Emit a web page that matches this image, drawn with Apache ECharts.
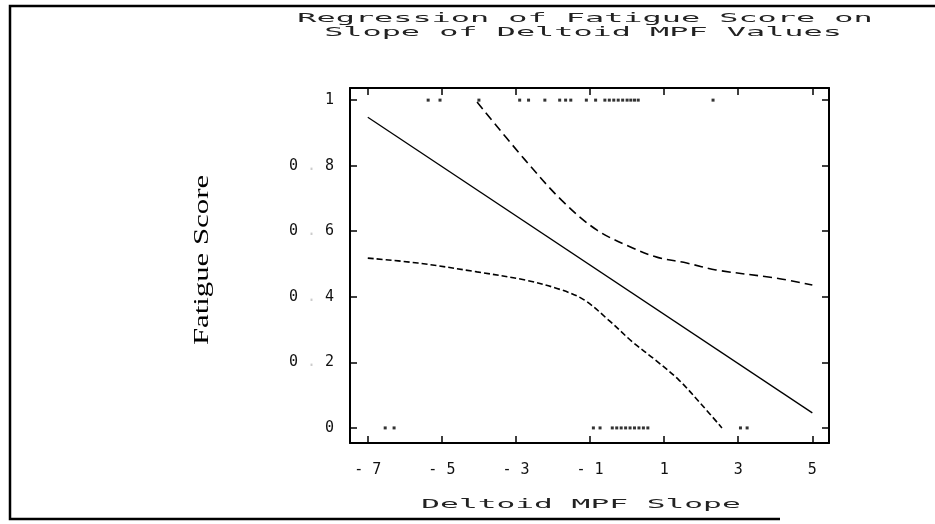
<!DOCTYPE html>
<html>
<head>
<meta charset="utf-8">
<script src="https://cdn.jsdelivr.net/npm/echarts@6/dist/echarts.min.js"></script>
<style>
  html, body { margin: 0; padding: 0; background: #fff; }
  #chart { width: 935px; height: 524px; }
</style>
</head>
<body>
<div id="chart"></div>
<script>
// ── Data ────────────────────────────────────────────────────────────────────
const xTicks = [-7, -5, -3, -1, 1, 3, 5];
const yTicks = [0, 0.2, 0.4, 0.6, 0.8, 1];

// fitted regression line (Deltoid MPF slope → fatigue score)
const fitLine = [[-7, 0.948], [5, 0.046]];

// upper / lower confidence curves
const upperBand = [
  [-4.05, 0.994], [-2.75, 0.817], [-1.77, 0.695], [-0.82, 0.604], [0.15, 0.549],
  [0.80, 0.521], [1.61, 0.503], [2.40, 0.482], [4.02, 0.457], [5.0, 0.436]
];
const lowerBand = [
  [-7.0, 0.518], [-5.65, 0.503], [-4.05, 0.476], [-2.75, 0.451], [-1.77, 0.421],
  [-1.15, 0.390], [-0.50, 0.329], [0.15, 0.262], [0.80, 0.204], [1.40, 0.146],
  [2.02, 0.070], [2.56, 0.0]
];

// observed subjects: fatigued (1) and not fatigued (0)
const fatiguedX = [
  -5.37, -5.05, -4.0, -2.90, -2.66, -2.22, -1.82, -1.66, -1.52, -1.10, -0.85,
  -0.60, -0.48, -0.36, -0.24, -0.12, 0.0, 0.1, 0.2, 0.3, 2.32
];
const notFatiguedX = [
  -6.53, -6.29, -0.91, -0.73, -0.40, -0.28, -0.16, -0.04, 0.08, 0.20, 0.32,
  0.44, 0.56, 3.06, 3.24
];

const titleLines = ['Regression of Fatigue Score on', 'Slope of Deltoid MPF Values'];
const xName = 'Deltoid MPF Slope';
const yName = 'Fatigue Score';

// ── Chart ───────────────────────────────────────────────────────────────────
const chart = echarts.init(document.getElementById('chart'), null, { renderer: 'canvas' });

const MONO = '"DejaVu Sans Mono", "Liberation Mono", monospace';
const INK = '#000';

function xLabel(v) {
  return v < 0 ? '- ' + Math.abs(v) : String(v);
}
function yLabel(v) {
  if (v === 0 || v === 1) return String(v);
  const s = v.toFixed(1);
  return '{d|' + s[0] + '}{p|.}{d|' + s[2] + '}';
}

const axisLine = { show: true, onZero: false, lineStyle: { color: INK, width: 2 } };
const tickStyle = { show: true, inside: true, length: 7, lineStyle: { color: INK, width: 1.5 } };

const option = {
  backgroundColor: '#fff',
  animation: false,
  grid: { left: 350, right: 106, top: 88, bottom: 81, containLabel: false },
  xAxis: [
    {
      type: 'value', position: 'bottom', min: -7.48, max: 5.45,
      axisLine,
      axisTick: Object.assign({ customValues: xTicks }, tickStyle),
      axisLabel: {
        customValues: xTicks, formatter: xLabel, margin: 20,
        color: '#111', fontFamily: MONO, fontSize: 15
      },
      splitLine: { show: false }
    },
    {
      type: 'value', position: 'top', min: -7.48, max: 5.45,
      axisLine,
      axisTick: Object.assign({ customValues: xTicks }, tickStyle),
      axisLabel: { show: false },
      splitLine: { show: false }
    }
  ],
  yAxis: [
    {
      type: 'value', position: 'left', min: -0.046, max: 1.037,
      axisLine,
      axisTick: Object.assign({ customValues: yTicks }, tickStyle),
      axisLabel: {
        customValues: yTicks, formatter: yLabel, margin: 16,
        color: '#111', fontFamily: MONO, fontSize: 15,
        rich: {
          d: { fontFamily: MONO, fontSize: 15, color: '#111' },
          p: { fontFamily: MONO, fontSize: 15, color: '#ccc', width: 27, align: 'center' }
        }
      },
      splitLine: { show: false }
    },
    {
      type: 'value', position: 'right', min: -0.046, max: 1.037,
      axisLine,
      axisTick: Object.assign({ customValues: yTicks }, tickStyle),
      axisLabel: { show: false },
      splitLine: { show: false }
    }
  ],
  series: [
    {
      name: 'fit', type: 'line', data: fitLine, showSymbol: false,
      lineStyle: { color: INK, width: 1.3 }
    },
    {
      name: 'upper', type: 'line', data: upperBand, showSymbol: false, smooth: 0.35,
      lineStyle: { color: INK, width: 1.6, type: [9, 5] }
    },
    {
      name: 'lower', type: 'line', data: lowerBand, showSymbol: false, smooth: 0.35,
      lineStyle: { color: INK, width: 1.6, type: [6, 3] }
    },
    {
      name: 'fatigued', type: 'scatter', symbol: 'rect', symbolSize: 3,
      data: fatiguedX.map(x => [x, 1]),
      itemStyle: { color: INK }
    },
    {
      name: 'not fatigued', type: 'scatter', symbol: 'rect', symbolSize: 3,
      data: notFatiguedX.map(x => [x, 0]),
      itemStyle: { color: INK }
    }
  ],
  graphic: [
    // scanned page frame
    {
      type: 'polyline', silent: true,
      shape: { points: [[935, 6], [10, 6], [10, 519], [780, 519]] },
      style: { stroke: INK, lineWidth: 2.5, fill: null }
    },
    // title (wide, stretched lettering as in the print-out)
    {
      type: 'text', x: 585, y: 19, scaleX: 2.45,
      style: {
        text: titleLines[0], font: '13px ' + MONO, fill: '#222',
        textAlign: 'center', textVerticalAlign: 'middle'
      }
    },
    {
      type: 'text', x: 583, y: 33, scaleX: 2.45,
      style: {
        text: titleLines[1], font: '13px ' + MONO, fill: '#222',
        textAlign: 'center', textVerticalAlign: 'middle'
      }
    },
    // x axis name
    {
      type: 'text', x: 581, y: 505, scaleX: 2.4,
      style: {
        text: xName, font: '13px ' + MONO, fill: '#222',
        textAlign: 'center', textVerticalAlign: 'middle'
      }
    },
    // y axis name, serif, reading bottom to top
    {
      type: 'text', x: 202, y: 260, rotation: Math.PI / 2, scaleX: 1.4,
      style: {
        text: yName, font: '22px "Liberation Serif", "DejaVu Serif", serif', fill: INK,
        textAlign: 'center', textVerticalAlign: 'middle'
      }
    }
  ]
};

chart.setOption(option);
</script>
</body>
</html>
